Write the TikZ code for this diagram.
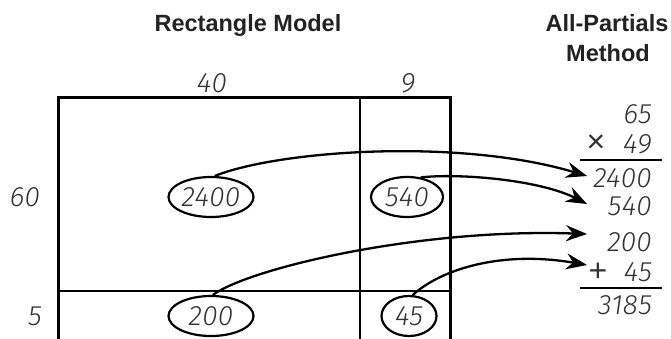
\documentclass[tikz,border=0pt]{standalone}
\usepackage{fontspec}
\usetikzlibrary{shapes.geometric,arrows.meta}
\newfontfamily\titlefont{Liberation Sans}
\newfontfamily\hand{Fira Sans Light Italic}[LetterSpace=1]
\definecolor{ink}{HTML}{333333}
\definecolor{tink}{HTML}{222222}
\tikzset{
  title/.style={font=\titlefont\bfseries\fontsize{23.5}{26}\selectfont, text=tink, inner sep=0pt},
  num/.style={font=\hand\fontsize{28}{30}\selectfont, text=ink, inner sep=0pt},
  sym/.style={font=\titlefont\fontsize{32}{34}\selectfont, text=ink, inner sep=0pt},
  oval/.style={num, draw=black, line width=2.2pt, ellipse, minimum height=40pt},
  thin/.style={line width=1.3pt},
  thick/.style={line width=3pt},
  arr/.style={line width=2.3pt, -{Stealth[length=21pt,width=16pt,inset=7pt]}},
  rule/.style={line width=1.3pt}
}
\begin{document}
\begin{tikzpicture}[x=1pt,y=-1pt]
\useasboundingbox (0,0) rectangle (671,339);
% titles
\node[title, anchor=base] (t1) at (248,32) {Rectangle Model};
\node[title, anchor=base] (t2) at (607,32) {All-Partials};
\node[title, anchor=base] (t3) at (608,62) {Method};
% dimension labels
\node[num] (l40) at (212,83) {40};
\node[num] (l9) at (408,83) {9};
\node[num] (l60) at (25,197) {60};
\node[num] (l5) at (35,316) {5};
% rectangle
\draw[thin] (360,98) -- (360,339);
\draw[thin] (58,291) -- (450,291);
\draw[thick] (58,339) -- (58,98) -- (450,98) -- (450,339);
% ovals
\node[oval, minimum width=85pt, fill=white] (e1) at (211,197) {2400};
\node[oval, minimum width=72pt, fill=white] (e2) at (407,197) {540};
\node[oval, minimum width=85pt, fill=white] (e3) at (211,316) {200};
\node[oval, minimum width=55pt, fill=white] (e4) at (409,316) {45};
% right column
\node[num, anchor=east] (r0) at (652,114) {65};
\node[num, anchor=east] (r00) at (652,144) {49};
\node[sym] (mul) at (596,144) {×};
\draw[rule] (580,160) coordinate (u1) -- (662,160) coordinate (u2);
\node[num, anchor=east] (r1) at (652,178) {2400};
\node[num, anchor=east] (r2) at (652,206) {540};
\node[num, anchor=east] (r3) at (652,242) {200};
\node[num, anchor=east] (r4) at (652,272) {45};
\node[sym] (plus) at (598,272) {+};
\draw[rule] (580,288) coordinate (v1) -- (662,288) coordinate (v2);
\node[num, anchor=east] (r5) at (652,305) {3185};
% arrow tips
\coordinate (p1) at (587,176);
\coordinate (p2) at (587,204);
\coordinate (p3) at (587,234);
\coordinate (p4) at (587,265);
% arrows
\draw[arr] (e1.80) .. controls (280,150) and (460,138) .. (p1);
\draw[arr] (e2.55) .. controls (460,173) and (540,180) .. (p2);
\draw[arr] (e3.85) .. controls (250,268) and (420,228) .. (p3);
\draw[arr] (e4.80) .. controls (440,270) and (500,250) .. (p4);
\end{tikzpicture}
\end{document}
